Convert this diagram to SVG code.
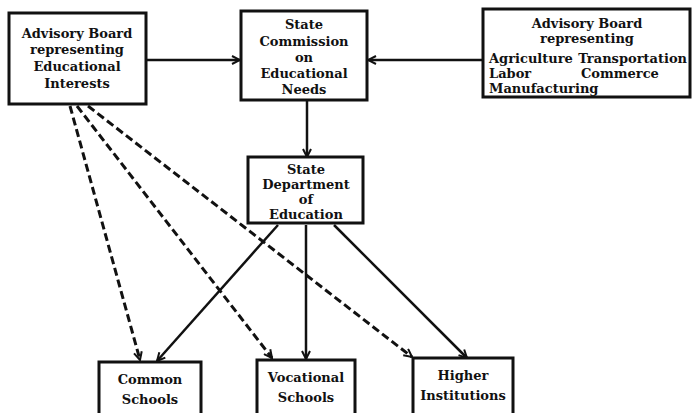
<svg xmlns="http://www.w3.org/2000/svg" width="698" height="413" viewBox="0 0 698 413">
<defs>
<marker id="ah" viewBox="0 0 10 10" refX="9" refY="5" markerWidth="10" markerHeight="10" markerUnits="userSpaceOnUse" orient="auto">
<path d="M1,1 L9,5 L1,9" fill="none" stroke="#111" stroke-width="2"/>
</marker>
</defs>
<style>
.box{fill:#fff;stroke:#111;stroke-width:3}
.t{font-family:"DejaVu Serif","Liberation Serif",serif;font-weight:bold;font-size:13px;fill:#111;text-anchor:middle}
.tl{font-family:"DejaVu Serif","Liberation Serif",serif;font-weight:bold;font-size:13px;fill:#111}
.s{fill:none;stroke:#111;stroke-width:2.5;marker-end:url(#ah)}
.d{fill:none;stroke:#111;stroke-width:3;stroke-dasharray:8 4;marker-end:url(#ah)}
</style>
<rect width="698" height="413" fill="#fff"/>
<g id="connectors">
<line class="s" x1="146" y1="60" x2="240" y2="60"/>
<line class="s" x1="483" y1="60" x2="368" y2="60"/>
<line class="s" x1="307" y1="101" x2="307" y2="157"/>
<line class="s" x1="278" y1="225" x2="157" y2="361"/>
<line class="s" x1="306" y1="225" x2="306" y2="359"/>
<line class="s" x1="334" y1="225" x2="467" y2="358"/>
<line class="d" x1="70" y1="106" x2="140" y2="360"/>
<line class="d" x1="77" y1="106" x2="272" y2="358"/>
<line class="d" x1="88" y1="106" x2="412" y2="357"/>
</g>
<g id="advisory-educational">
<rect class="box" x="9" y="13" width="137" height="91"/>
<text class="t" x="77" y="38">Advisory Board</text>
<text class="t" x="77" y="54">representing</text>
<text class="t" x="77" y="71">Educational</text>
<text class="t" x="77" y="88">Interests</text>
</g>
<g id="state-commission">
<rect class="box" x="241" y="11" width="126" height="89"/>
<text class="t" x="304" y="29">State</text>
<text class="t" x="304" y="46">Commission</text>
<text class="t" x="304" y="62">on</text>
<text class="t" x="304" y="78">Educational</text>
<text class="t" x="304" y="94">Needs</text>
</g>
<g id="advisory-industry">
<rect class="box" x="483" y="9" width="207" height="88"/>
<text class="t" x="587" y="28">Advisory Board</text>
<text class="t" x="587" y="43">representing</text>
<text class="tl" x="489" y="63">Agriculture</text>
<text class="tl" x="687" y="63" text-anchor="end">Transportation</text>
<text class="tl" x="489" y="78">Labor</text>
<text class="tl" x="581" y="78">Commerce</text>
<text class="tl" x="489" y="93">Manufacturing</text>
</g>
<g id="state-department">
<rect class="box" x="248" y="157" width="115" height="66"/>
<text class="t" x="306" y="174">State</text>
<text class="t" x="306" y="189">Department</text>
<text class="t" x="306" y="204">of</text>
<text class="t" x="306" y="219">Education</text>
</g>
<g id="common-schools">
<rect class="box" x="99" y="362" width="102" height="60"/>
<text class="t" x="150" y="384">Common</text>
<text class="t" x="150" y="404">Schools</text>
</g>
<g id="vocational-schools">
<rect class="box" x="257" y="360" width="98" height="60"/>
<text class="t" x="306" y="382">Vocational</text>
<text class="t" x="306" y="402">Schools</text>
</g>
<g id="higher-institutions">
<rect class="box" x="413" y="358" width="100" height="60"/>
<text class="t" x="463" y="380">Higher</text>
<text class="t" x="463" y="400">Institutions</text>
</g>
</svg>
